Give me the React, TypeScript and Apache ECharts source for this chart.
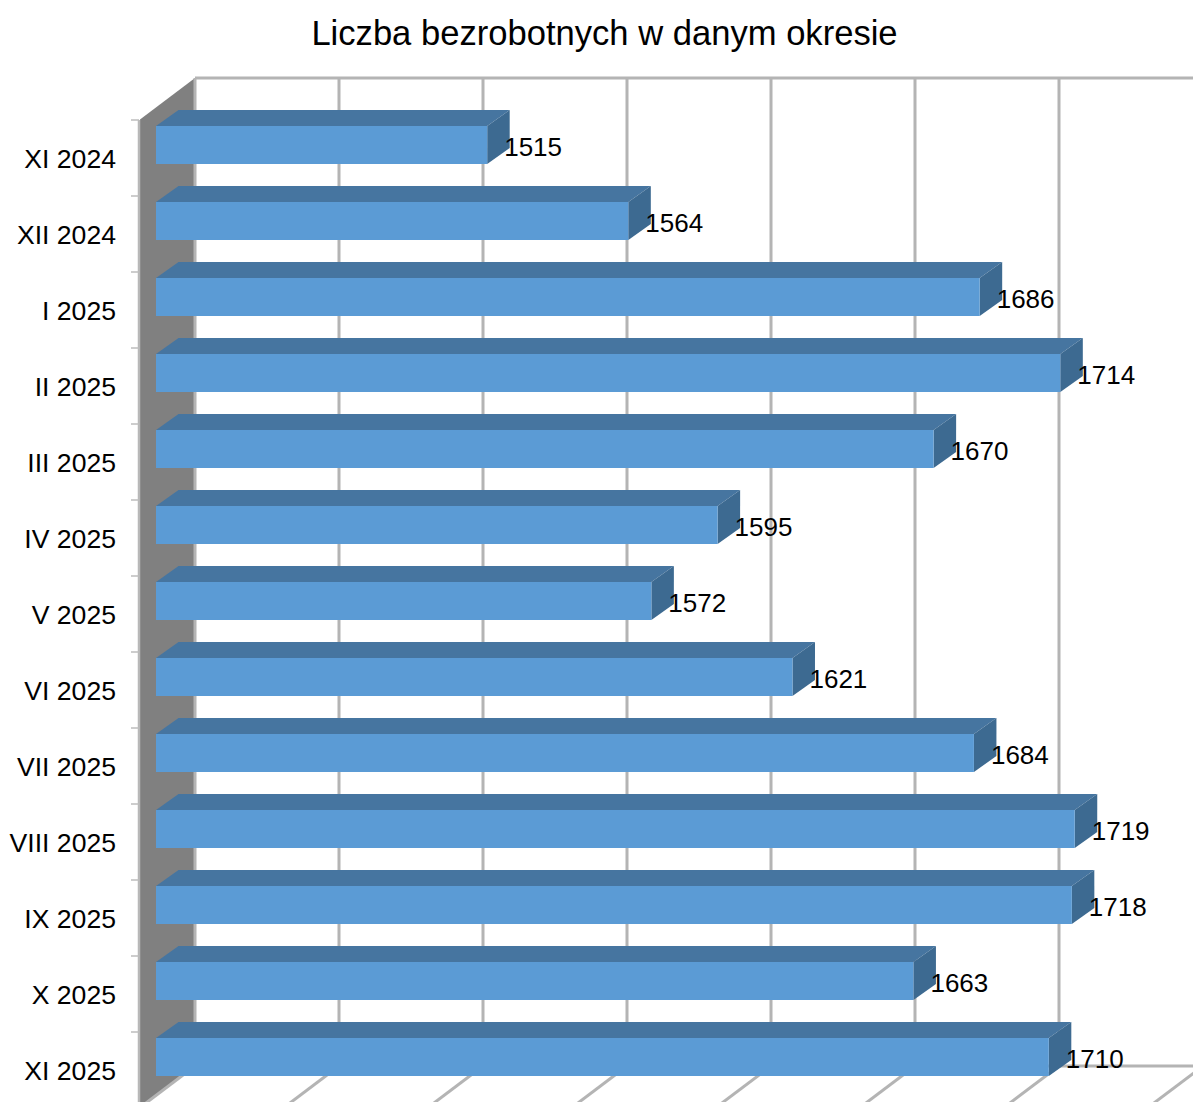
import React, { useEffect, useRef } from "react";
import * as echarts from "echarts";

const categories = ["XI 2024", "XII 2024", "I 2025", "II 2025", "III 2025", "IV 2025", "V 2025", "VI 2025", "VII 2025", "VIII 2025", "IX 2025", "X 2025", "XI 2025"];
const values = [1515, 1564, 1686, 1714, 1670, 1595, 1572, 1621, 1684, 1719, 1718, 1663, 1710];
const gridValues = [1400, 1450, 1500, 1550, 1600, 1650, 1700, 1750];
const title = "Liczba bezrobotnych w danym okresie";

const GRID = "#b4b4b4";
const FONT = "'Liberation Sans', Arial, sans-serif";

export default function App() {
  const ref = useRef<HTMLDivElement>(null);
  useEffect(() => {
    document.body.style.margin = "0";
    const chart = echarts.init(ref.current!, undefined, { renderer: "svg" });
    chart.setOption({
      animation: false,
      backgroundColor: "#ffffff",
      title: {
        text: title,
        left: 599.5,
        top: 10,
        textAlign: "center",
        textStyle: { fontFamily: FONT, fontSize: 34.6, fontWeight: "normal", color: "#000000" },
      },
      grid: { left: 156, top: 107, width: 1008, height: 988 },
      xAxis: {
        type: "value",
        min: 1400,
        max: 1750,
        interval: 50,
        show: false,
      },
      yAxis: {
        type: "category",
        inverse: true,
        data: categories,
        axisLine: { show: false },
        axisTick: { show: false },
        axisLabel: {
          fontFamily: FONT,
          fontSize: 26.6,
          color: "#000000",
          margin: 40,
          verticalAlign: "top",
          lineHeight: 27,
        },
      },
      series: [
        {
          type: "custom",
          coordinateSystem: "cartesian2d",
          encode: { x: 0 },
          data: gridValues.map((v) => [v]),
          z: 1,
          renderItem: (params: any, api: any) => {
            const cs = params.coordSys;
            const x = api.coord([api.value(0), 0])[0];
            const top = cs.y;
            const bottom = cs.y + cs.height;
            const children: any[] = [];
            const line = (x1: number, y1: number, x2: number, y2: number, lineWidth = 3, stroke = GRID) => ({
              type: "line",
              shape: { x1, y1, x2, y2 },
              style: { stroke, lineWidth },
            });
            children.push(line(x + 39, top - 29, x + 39, bottom - 29));
            children.push(line(x + 39, bottom - 29, x - 16, bottom + 12.5));
            if (params.dataIndex === 0) {
              children.push(line(x + 39, top - 29, x + 1100, top - 29));
              children.push(line(x + 39, bottom - 29, x + 1100, bottom - 29));
              children.unshift({
                type: "polygon",
                shape: {
                  points: [
                    [x - 16, top + 12.5],
                    [x + 39, top - 29],
                    [x + 39, bottom - 29],
                    [x - 16, bottom + 12.5],
                  ],
                },
                style: { fill: "#808080" },
              });
              children.push(line(x - 17, top + 13, x - 17, bottom + 13, 2.5, "#b8b8b8"));
              categories.forEach((_, i) => {
                const y = top + 13 + (i * cs.height) / categories.length;
                children.push(line(x - 25, y, x - 17, y, 1.5, "#bcbcbc"));
              });
            }
            return { type: "group", children };
          },
        },
        {
          type: "custom",
          coordinateSystem: "cartesian2d",
          encode: { x: 0, y: 1 },
          data: values.map((v, i) => [v, i]),
          z: 2,
          renderItem: (_params: any, api: any) => {
            const end = api.coord([api.value(0), api.value(1)]);
            const start = api.coord([1400, api.value(1)]);
            const h = 38;
            const yTop = end[1] - h / 2;
            const yBot = end[1] + h / 2;
            const dx = 22.5;
            const dy = 16;
            return {
              type: "group",
              children: [
                {
                  type: "polygon",
                  shape: { points: [[start[0], yTop], [start[0] + dx, yTop - dy], [end[0] + dx, yTop - dy], [end[0], yTop]] },
                  style: { fill: "#4675a0" },
                },
                {
                  type: "polygon",
                  shape: { points: [[end[0], yTop], [end[0] + dx, yTop - dy], [end[0] + dx, yBot - dy], [end[0], yBot]] },
                  style: { fill: "#3d6a91" },
                },
                {
                  type: "rect",
                  shape: { x: start[0], y: yTop, width: end[0] - start[0], height: h },
                  style: { fill: "#5b9bd5" },
                },
                {
                  type: "text",
                  x: end[0] + 17,
                  y: end[1] + 1.5,
                  style: {
                    text: String(api.value(0)),
                    fontFamily: FONT,
                    fontSize: 26,
                    fill: "#000000",
                    verticalAlign: "middle",
                    align: "left",
                  },
                },
              ],
            };
          },
        },
      ],
    });
    return () => chart.dispose();
  }, []);
  return <div ref={ref} style={{ position: "absolute", left: 0, top: 0, width: 1193, height: 1102, overflow: "hidden" }} />;
}
